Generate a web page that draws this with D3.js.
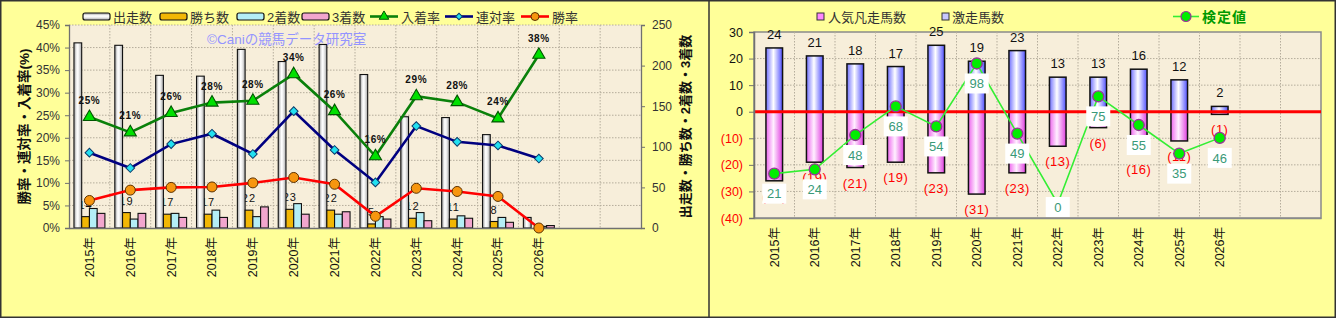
<!DOCTYPE html>
<html><head><meta charset="utf-8">
<script src="https://cdn.jsdelivr.net/npm/d3@7"></script>
<style>
body{margin:0;background:#FFFF99;}
svg{display:block;}
text{font-family:"Liberation Sans","Noto Sans CJK JP",sans-serif;}
</style>
</head><body>
<svg id="c" width="1336" height="318"></svg>
<script>
// ---------- data ----------
const years = ["2015年","2016年","2017年","2018年","2019年","2020年","2021年","2022年","2023年","2024年","2025年","2026年"];
const emptySlots = ["", " "];
// left chart
const starts  = [228,225,188,187,220,205,226,189,137,136,115,13];
const wins    = [14,19,17,17,22,23,22,5,12,11,8,0];
const seconds = [24,11,18,22,14,30,17,14,19,15,13,2];
const thirds  = [18,18,13,13,26,17,20,11,9,12,7,3];
const placeRate  = [24.6,21.2,25.5,27.8,28.2,34.1,25.9,15.9,29.2,27.9,24.3,38.4];
const rentaiRate = [16.7,13.3,18.6,20.9,16.4,25.9,17.3,10.1,22.6,19.1,18.3,15.4];
const winRate    = [6.1,8.4,9.0,9.1,10.0,11.2,9.7,2.6,8.8,8.1,7.0,0];
const pctTicks = [0,5,10,15,20,25,30,35,40,45];
const cntTicks = [0,50,100,150,200,250];
// right chart
const upsets   = [24,21,18,17,25,19,23,13,13,16,12,2];   // 激走馬数
const flops    = [26,19,21,19,23,31,23,13,6,16,11,1];    // 人気凡走馬数
const testVal  = [21,24,48,68,54,98,49,0,75,55,35,46];   // 検定値
const rTicks = [-40,-30,-20,-10,0,10,20,30];

// ---------- setup ----------
const svg = d3.select("#c");
const defs = svg.append("defs");
function hgrad(id, stops, vertical){
  const g = defs.append("linearGradient").attr("id", id)
    .attr("x1",0).attr("y1",0).attr("x2", vertical?0:1).attr("y2", vertical?1:0);
  stops.forEach(s=>g.append("stop").attr("offset",s[0]).attr("stop-color",s[1]));
}
hgrad("gGray", [[0,"#9c9c9c"],[0.4,"#ffffff"],[0.6,"#f2f2f2"],[1,"#a5a5a5"]]);
hgrad("gGrayV",[[0,"#9c9c9c"],[0.4,"#ffffff"],[0.6,"#f2f2f2"],[1,"#a5a5a5"]], true);
hgrad("gBlue", [[0,"#6f6fff"],[0.45,"#ffffff"],[1,"#5050ff"]]);
hgrad("gPink", [[0,"#ee66ee"],[0.45,"#fff0ff"],[1,"#e040e0"]]);

svg.append("rect").attr("width",1336).attr("height",318).attr("fill","#FFFF99");

// ================= LEFT CHART =================
const L = {x0:69, x1:641, y0:25, y1:228};
const xL = d3.scaleBand().domain(years.concat(emptySlots)).range([L.x0, L.x1]);
const bw = xL.bandwidth();
const series = ["starts","wins","seconds","thirds"];
const xSub = d3.scaleBand().domain(series).range([0,bw]).paddingOuter(0.64);
const yPct = d3.scaleLinear().domain([0,45]).range([L.y1, L.y0]);
const yCnt = d3.scaleLinear().domain([0,250]).range([L.y1, L.y0]);

const gl = svg.append("g");
gl.append("rect").attr("x",L.x0).attr("y",L.y0).attr("width",L.x1-L.x0).attr("height",L.y1-L.y0).attr("fill","#F7EEDA");
// grid
gl.append("g").selectAll("line").data(pctTicks.slice(1)).join("line")
  .attr("x1",L.x0).attr("x2",L.x1).attr("y1",d=>yPct(d)).attr("y2",d=>yPct(d))
  .attr("stroke","#b5ad9c").attr("stroke-dasharray","1.5,1.5");
gl.append("g").selectAll("line").data(xL.domain().slice(1)).join("line")
  .attr("x1",d=>xL(d)).attr("x2",d=>xL(d)).attr("y1",L.y0).attr("y2",L.y1)
  .attr("stroke","#b5ad9c").attr("stroke-dasharray","1.5,1.5");

// win count labels (behind bars)
gl.append("g").selectAll("text").data(years.filter((y,i)=>wins[i]>0)).join("text")
  .attr("x",d=>xL(d)+xSub("wins")+xSub.bandwidth()/2)
  .attr("y",d=>yCnt(wins[years.indexOf(d)])-8)
  .attr("text-anchor","middle").attr("font-size",11).attr("letter-spacing",1).attr("fill","#111")
  .text(d=>wins[years.indexOf(d)]);

const barFill = {starts:"url(#gGray)", wins:"#F2B705", seconds:"#B4EEF6", thirds:"#F2A6CE"};
const barData = {starts, wins, seconds, thirds};
series.forEach(s=>{
  gl.append("g").selectAll("rect").data(years).join("rect")
    .attr("x",d=>xL(d)+xSub(s)).attr("width",xSub.bandwidth())
    .attr("y",(d,i)=>yCnt(barData[s][i])).attr("height",(d,i)=>yCnt(0)-yCnt(barData[s][i]))
    .attr("fill",barFill[s]).attr("stroke","#111").attr("stroke-width",1.1);
});

// axes
const axL = gl.append("g").attr("transform",`translate(${L.x0},0)`)
  .call(d3.axisLeft(yPct).tickValues(pctTicks).tickFormat(d=>d+"%").tickSize(4).tickPadding(5));
const axR = gl.append("g").attr("transform",`translate(${L.x1},0)`)
  .call(d3.axisRight(yCnt).tickValues(cntTicks).tickSize(4).tickPadding(7));
const axB = gl.append("g").attr("transform",`translate(0,${L.y1})`)
  .call(d3.axisBottom(xL).tickSize(0).tickFormat(d=>d.trim()));
[axL,axR,axB].forEach(a=>{
  a.select(".domain").attr("stroke","#707070").attr("stroke-width",1.3);
  a.selectAll(".tick line").attr("stroke","#707070");
  a.selectAll("text").attr("font-size",12).attr("fill","#333")
   .style("font-family",'"Liberation Sans","Noto Sans CJK JP",sans-serif');
});
axB.selectAll("text").attr("transform","rotate(-90)").attr("x",-9).attr("y",0)
  .attr("dy","0.35em").attr("text-anchor","end").attr("fill","#111").attr("font-size",12.5);

// lines
function cx(i){ return xL(years[i]) + bw/2; }
const lineSpec = [
  {data:placeRate,  color:"#0A800A", w:2.6},
  {data:rentaiRate, color:"#000080", w:2.6},
  {data:winRate,    color:"#FF0000", w:2.6}
];
lineSpec.forEach(ls=>{
  gl.append("path").datum(ls.data)
    .attr("d", d3.line().x((d,i)=>cx(i)).y(d=>yPct(d)))
    .attr("fill","none").attr("stroke",ls.color).attr("stroke-width",ls.w);
});
// markers
gl.append("g").selectAll("path").data(placeRate).join("path")
  .attr("transform",(d,i)=>`translate(${cx(i)},${yPct(d)})`)
  .attr("d", d3.symbol(d3.symbolTriangle).size(64)())
  .attr("fill","#00E000").attr("stroke","#005500").attr("stroke-width",1.1);
gl.append("g").selectAll("path").data(rentaiRate).join("path")
  .attr("transform",(d,i)=>`translate(${cx(i)},${yPct(d)}) rotate(45)`)
  .attr("d", d3.symbol(d3.symbolSquare).size(38)())
  .attr("fill","#22E0F0").attr("stroke","#0a3a6a").attr("stroke-width",1);
gl.append("g").selectAll("circle").data(winRate).join("circle")
  .attr("cx",(d,i)=>cx(i)).attr("cy",d=>yPct(d)).attr("r",5)
  .attr("fill","#F7960F").attr("stroke","#5a3000").attr("stroke-width",1);
// place rate labels
gl.append("g").selectAll("text").data(placeRate).join("text")
  .attr("x",(d,i)=>cx(i)).attr("y",d=>yPct(d)-13)
  .attr("text-anchor","middle").attr("font-size",10).attr("font-weight","bold").attr("letter-spacing",0.6)
  .attr("fill","#111").text(d=>Math.round(d)+"%");

// watermark
gl.append("text").attr("x",207).attr("y",44).attr("font-size",13.5).attr("fill","#9494FF")
  .text("©Caniの競馬データ研究室");

// axis titles
gl.append("text").attr("transform",`translate(29,${(L.y0+L.y1)/2}) rotate(-90)`)
  .attr("text-anchor","middle").attr("font-size",13.5).attr("font-weight","bold").attr("fill","#111")
  .text("勝率・連対率・入着率(%)");
gl.append("text").attr("transform",`translate(690,${(L.y0+L.y1)/2}) rotate(-90)`)
  .attr("text-anchor","middle").attr("font-size",13).attr("font-weight","bold").attr("fill","#111")
  .text("出走数・勝ち数・2着数・3着数");

// legend left
const legBars = [
  {x:83, fill:"url(#gGrayV)", t:"出走数"},
  {x:160, fill:"#F2B705", t:"勝ち数"},
  {x:237, fill:"#B4EEF6", t:"2着数"},
  {x:302, fill:"#F2A6CE", t:"3着数"}
];
const lg = gl.append("g");
legBars.forEach(b=>{
  lg.append("rect").attr("x",b.x).attr("y",13).attr("width",27).attr("height",7).attr("rx",2)
    .attr("fill",b.fill).attr("stroke","#111").attr("stroke-width",1.2);
  lg.append("text").attr("x",b.x+30).attr("y",21.5).attr("font-size",13).attr("fill","#333").text(b.t);
});
const legLines = [
  {x:370, color:"#0A800A", t:"入着率", m:"tri"},
  {x:445, color:"#000080", t:"連対率", m:"dia"},
  {x:521, color:"#FF0000", t:"勝率", m:"cir"}
];
legLines.forEach(l=>{
  lg.append("line").attr("x1",l.x).attr("x2",l.x+28).attr("y1",16.5).attr("y2",16.5)
    .attr("stroke",l.color).attr("stroke-width",2.6);
  const mx=l.x+14;
  if(l.m==="tri") lg.append("path").attr("transform",`translate(${mx},16.5)`).attr("d",d3.symbol(d3.symbolTriangle).size(40)()).attr("fill","#00E000").attr("stroke","#005500");
  if(l.m==="dia") lg.append("path").attr("transform",`translate(${mx},16.5) rotate(45)`).attr("d",d3.symbol(d3.symbolSquare).size(22)()).attr("fill","#22E0F0").attr("stroke","#0a3a6a");
  if(l.m==="cir") lg.append("circle").attr("cx",mx).attr("cy",16.5).attr("r",4).attr("fill","#F7960F").attr("stroke","#5a3000");
  lg.append("text").attr("x",l.x+31).attr("y",21.5).attr("font-size",13).attr("fill","#333").text(l.t);
});

// ================= RIGHT CHART =================
const R = {x0:754, x1:1321, y0:32, y1:218};
const xR = d3.scaleBand().domain(years.concat(emptySlots)).range([R.x0, R.x1]);
const rbw = xR.bandwidth();
const barW = rbw*0.41;
const yR = d3.scaleLinear().domain([-40,30]).range([R.y1, R.y0]);
const yG = d3.scaleLinear().domain([-10,120]).range([R.y1, R.y0]);
const gr = svg.append("g");
gr.append("rect").attr("x",R.x0).attr("y",R.y0).attr("width",R.x1-R.x0).attr("height",R.y1-R.y0)
  .attr("fill","#F7EEDA").attr("stroke","#8a8a8a").attr("stroke-width",1.5);
gr.append("g").selectAll("line").data(rTicks.slice(1,-1)).join("line")
  .attr("x1",R.x0).attr("x2",R.x1).attr("y1",d=>yR(d)).attr("y2",d=>yR(d))
  .attr("stroke","#b5ad9c").attr("stroke-dasharray","1.5,1.5");
gr.append("g").selectAll("line").data(xR.domain().slice(1)).join("line")
  .attr("x1",d=>xR(d)).attr("x2",d=>xR(d)).attr("y1",R.y0).attr("y2",R.y1)
  .attr("stroke","#b5ad9c").attr("stroke-dasharray","1.5,1.5");
function rcx(i){ return xR(years[i]) + rbw/2; }
// bars
gr.append("g").selectAll("rect").data(flops).join("rect")
  .attr("x",(d,i)=>rcx(i)-barW/2).attr("width",barW)
  .attr("y",yR(0)).attr("height",d=>yR(-d)-yR(0))
  .attr("fill","url(#gPink)").attr("stroke","#111").attr("stroke-width",1.5);
gr.append("g").selectAll("rect").data(upsets).join("rect")
  .attr("x",(d,i)=>rcx(i)-barW/2).attr("width",barW)
  .attr("y",d=>yR(d)).attr("height",d=>yR(0)-yR(d))
  .attr("fill","url(#gBlue)").attr("stroke","#111").attr("stroke-width",1.5);
// zero line
gr.append("line").attr("x1",R.x0).attr("x2",R.x1).attr("y1",yR(0)).attr("y2",yR(0))
  .attr("stroke","#FF0000").attr("stroke-width",3);
// bar labels
gr.append("g").selectAll("text").data(upsets).join("text")
  .attr("x",(d,i)=>rcx(i)).attr("y",d=>yR(d)-9).attr("text-anchor","middle")
  .attr("font-size",13).attr("fill","#111").text(d=>d);
gr.append("g").selectAll("text").data(flops).join("text")
  .attr("x",(d,i)=>rcx(i)).attr("y",d=>yR(-d)+20).attr("text-anchor","middle")
  .attr("font-size",13).attr("letter-spacing",0.5).attr("fill","#FF0000").text(d=>`(${d})`);
// axes
const axRL = gr.append("g").attr("transform",`translate(${R.x0},0)`)
  .call(d3.axisLeft(yR).tickValues(rTicks).tickFormat(d=>d<0?`(${-d})`:d).tickSize(5).tickPadding(6));
axRL.select(".domain").attr("stroke","#707070").attr("stroke-width",1.5);
axRL.selectAll(".tick line").attr("stroke","#707070");
axRL.selectAll("text").attr("font-size",12.5).attr("fill",d=>d<0?"#FF0000":"#111")
  .style("font-family",'"Liberation Sans","Noto Sans CJK JP",sans-serif');
const axRB = gr.append("g").attr("transform",`translate(0,${R.y1})`)
  .call(d3.axisBottom(xR).tickSize(0).tickFormat(d=>d.trim()));
axRB.select(".domain").attr("stroke","#8a8a8a").attr("stroke-width",1.5);
axRB.selectAll("text").attr("transform","rotate(-90)").attr("x",-9).attr("y",0)
  .attr("dy","0.35em").attr("text-anchor","end").attr("fill","#111").attr("font-size",12.5)
  .style("font-family",'"Liberation Sans","Noto Sans CJK JP",sans-serif');
// test value line
gr.append("path").datum(testVal)
  .attr("d", d3.line().x((d,i)=>rcx(i)).y(d=>yG(d)))
  .attr("fill","none").attr("stroke","#33EE33").attr("stroke-width",1.6);
gr.append("g").selectAll("circle").data(testVal).join("circle")
  .attr("cx",(d,i)=>rcx(i)).attr("cy",d=>yG(d)).attr("r",5.5)
  .attr("fill","#00EE00").attr("stroke","#993399").attr("stroke-width",1.3);
// test value labels
const tl = gr.append("g").selectAll("g").data(testVal).join("g")
  .attr("transform",(d,i)=>`translate(${rcx(i)},${Math.min(yG(d)+20, R.y1-11)})`);
tl.append("rect").attr("x",-12).attr("y",-10).attr("width",24).attr("height",20).attr("fill","#FFFFFF");
tl.append("text").attr("text-anchor","middle").attr("dy","0.36em").attr("font-size",13)
  .attr("fill","#3A9A78").text(d=>d);

// legend right
const rl = gr.append("g");
rl.append("rect").attr("x",817).attr("y",13).attr("width",7).attr("height",7)
  .attr("fill","#FF88FF").attr("stroke","#333");
rl.append("text").attr("x",828).attr("y",21.5).attr("font-size",13).attr("fill","#333").text("人気凡走馬数");
rl.append("rect").attr("x",942).attr("y",13).attr("width",7).attr("height",7)
  .attr("fill","#C8C8FF").attr("stroke","#333");
rl.append("text").attr("x",952).attr("y",21.5).attr("font-size",13).attr("fill","#333").text("激走馬数");
rl.append("line").attr("x1",1173).attr("x2",1199).attr("y1",16.5).attr("y2",16.5)
  .attr("stroke","#33EE33").attr("stroke-width",1.6);
rl.append("circle").attr("cx",1186).attr("cy",16.5).attr("r",5)
  .attr("fill","#00EE00").attr("stroke","#993399").attr("stroke-width",1.2);
rl.append("text").attr("x",1202).attr("y",22).attr("font-size",14).attr("font-weight","bold")
  .attr("letter-spacing",1).attr("fill","#009900").text("検定値");

// frame
svg.append("line").attr("x1",709).attr("x2",709).attr("y1",0).attr("y2",318).attr("stroke","#333").attr("stroke-width",1.5);
svg.append("rect").attr("x",0.75).attr("y",0.75).attr("width",1334.5).attr("height",316.5)
  .attr("fill","none").attr("stroke","#333").attr("stroke-width",1.5);
</script>
</body></html>
